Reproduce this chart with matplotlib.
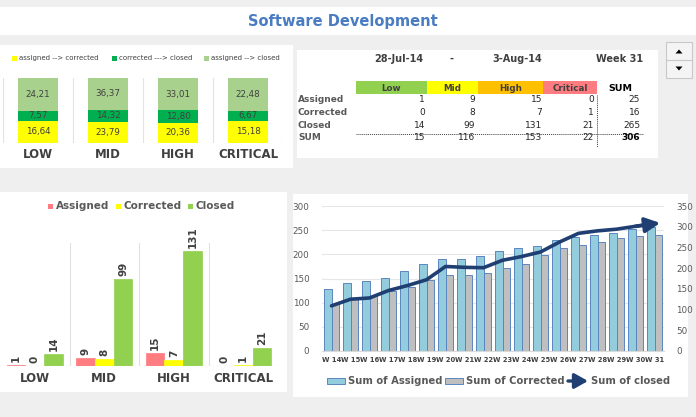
import matplotlib
matplotlib.use("Agg")
import matplotlib.pyplot as plt
import numpy as np
from matplotlib.patches import Rectangle, Polygon

# priority categories
categories = ["LOW", "MID", "HIGH", "CRITICAL"]
table_headers = ["Low", "Mid", "High", "Critical"]
row_names = ["Assigned", "Corrected", "Closed"]

# ratios for the 100% stacked chart
assigned_to_corrected = [16.64, 23.79, 20.36, 15.18]
corrected_to_closed = [7.57, 14.32, 12.80, 6.67]
assigned_to_closed = [24.21, 36.37, 33.01, 22.48]

# counts for this week
assigned = [1, 9, 15, 0]
corrected = [0, 8, 7, 1]
closed = [14, 99, 131, 21]

date_from = "28-Jul-14"
date_to = "3-Aug-14"
week_label = "Week 31"

# weekly totals
weeks = ["W 14", "W 15", "W 16", "W 17", "W 18", "W 19", "W 20", "W 21", "W 22",
         "W 23", "W 24", "W 25", "W 26", "W 27", "W 28", "W 29", "W 30", "W 31"]
sum_assigned = [128, 141, 145, 151, 165, 180, 190, 190, 197,
                206, 213, 217, 229, 235, 240, 245, 252, 257]
sum_corrected = [98, 108, 113, 125, 133, 146, 157, 158, 161,
                 172, 180, 198, 213, 220, 226, 233, 237, 239]
sum_closed = [109, 125, 128, 146, 158, 172, 204, 202, 201,
              219, 228, 239, 263, 284, 290, 294, 301, 308]

# colors
BG = "#EFEFEF"
TXT = "#404040"
GRAYTXT = "#595959"
YELLOW = "#FFFF00"
DGREEN = "#00B050"
LGREEN = "#A9D18E"
RED = "#FF7C80"
GREEN = "#92D050"
ORANGE = "#FFC000"
BLUEBAR = "#93CDDD"
GRAYBAR = "#BFBFBF"
EDGE = "#5B86C0"
NAVY = "#1F3F73"

W, H = 696, 417
fig = plt.figure(figsize=(W / 100, H / 100), dpi=100)
fig.patch.set_facecolor(BG)


def px_axes(x0, y0, x1, y1):
    ax = fig.add_axes([x0 / W, 1 - y1 / H, (x1 - x0) / W, (y1 - y0) / H])
    ax.set_facecolor("none")
    return ax


# background layer in pixel coords
bg = px_axes(0, 0, W, H)
bg.set_xlim(0, W)
bg.set_ylim(H, 0)
bg.axis("off")
bg.set_zorder(0)

for (x0, y0, x1, y1) in [(0, 7, 696, 35), (0, 45, 293, 168), (297, 50, 658, 158),
                         (0, 192, 287, 392), (293, 194, 688, 397)]:
    bg.add_patch(Rectangle((x0, y0), x1 - x0, y1 - y0, facecolor="white", edgecolor="none"))

bg.text(343, 21, "Software Development", color="#4A7CC2", fontsize=10.5, fontweight="bold",
        ha="center", va="center")

# ---- top left legend
for xs, col, lab in [(12, YELLOW, "assigned --> corrected"), (112, DGREEN, "corrected ---> closed"),
                     (204, LGREEN, "assigned --> closed")]:
    bg.add_patch(Rectangle((xs, 55.5), 5, 5, facecolor=col, edgecolor="none"))
    bg.text(xs + 7, 58, lab, fontsize=5.0, color=TXT, va="center", ha="left")

# ---- top left 100% stacked chart
ax1 = px_axes(3, 78, 283, 143)
a = np.array(assigned_to_corrected)
b = np.array(corrected_to_closed)
c = np.array(assigned_to_closed)
tot = a + b + c
x = np.arange(len(categories))
bottom = np.zeros(len(categories))
for vals, col in [(a, YELLOW), (b, DGREEN), (c, LGREEN)]:
    share = vals / tot
    ax1.bar(x, share, 0.56, bottom=bottom, color=col, edgecolor="none", zorder=2)
    for i in range(len(x)):
        ax1.text(x[i], bottom[i] + share[i] / 2, f"{vals[i]:.2f}".replace(".", ","),
                 ha="center", va="center", fontsize=6.3, color=TXT, zorder=3)
    bottom += share
ax1.set_xlim(-0.5, 3.5)
ax1.set_ylim(0, 1)
for xv in np.arange(-0.5, 4, 1):
    ax1.axvline(xv, color="#E3E3E3", lw=0.8, zorder=1)
ax1.axhline(0, color="#E3E3E3", lw=0.8)
ax1.axis("off")
for i, cat in enumerate(categories):
    bg.text(3 + 70 * (i + 0.5), 155, cat, ha="center", va="center", fontsize=8.5,
            fontweight="bold", color=TXT)

# ---- top right table
bg.text(399, 59, date_from, ha="center", va="center", fontsize=7, fontweight="bold", color=TXT)
bg.text(452, 59, "-", ha="center", va="center", fontsize=7, fontweight="bold", color=TXT)
bg.text(517, 59, date_to, ha="center", va="center", fontsize=7, fontweight="bold", color=TXT)
bg.text(620, 59, week_label, ha="center", va="center", fontsize=7, fontweight="bold", color=TXT)

col_edges = [356, 427, 478, 543, 597]
for i, (lab, col) in enumerate(zip(table_headers, [GREEN, YELLOW, ORANGE, RED])):
    bg.add_patch(Rectangle((col_edges[i], 81), col_edges[i + 1] - col_edges[i], 13,
                           facecolor=col, edgecolor="none"))
    bg.text((col_edges[i] + col_edges[i + 1]) / 2, 88, lab, ha="center", va="center",
            fontsize=6.3, fontweight="bold", color=TXT)
bg.text(620, 88, "SUM", ha="center", va="center", fontsize=6.8, fontweight="bold", color="black")

counts = np.array([assigned, corrected, closed])
num_x = [425, 475, 542, 594, 640]
row_y = [99.5, 112, 125, 138]
for r, name in enumerate(row_names):
    bg.text(298, row_y[r], name, ha="left", va="center", fontsize=6.5, fontweight="bold", color=GRAYTXT)
    for j in range(4):
        bg.text(num_x[j], row_y[r], str(counts[r, j]), ha="right", va="center", fontsize=6.5, color="#262626")
    bg.text(num_x[4], row_y[r], str(counts[r].sum()), ha="right", va="center", fontsize=6.5, color="#262626")
bg.text(298, row_y[3], "SUM", ha="left", va="center", fontsize=6.5, fontweight="bold", color=GRAYTXT)
col_sums = counts.sum(axis=0)
for j in range(4):
    bg.text(num_x[j], row_y[3], str(col_sums[j]), ha="right", va="center", fontsize=6.5, color="#262626")
bg.text(num_x[4], row_y[3], str(counts.sum()), ha="right", va="center", fontsize=6.5,
        fontweight="bold", color="black")
bg.plot([356, 643], [133.5, 133.5], color="#404040", lw=0.7, ls=(0, (1, 1)))
bg.plot([597, 597], [95, 147], color="#404040", lw=0.7, ls=(0, (1, 1)))

# spinner
bg.add_patch(Rectangle((666, 42), 26, 36, facecolor="#F4F4F4", edgecolor="#C8C8C8", lw=0.8))
bg.plot([666, 692], [60, 60], color="#C8C8C8", lw=0.8)
bg.add_patch(Polygon([[675.5, 53.5], [682.5, 53.5], [679, 49.5]], facecolor="black"))
bg.add_patch(Polygon([[675.5, 66.5], [682.5, 66.5], [679, 70.5]], facecolor="black"))

# ---- bottom left grouped bars
for xs, col, lab in [(48, RED, "Assigned"), (116, YELLOW, "Corrected"), (188, GREEN, "Closed")]:
    bg.add_patch(Rectangle((xs, 203.5), 5, 5, facecolor=col, edgecolor="none"))
    bg.text(xs + 8, 206, lab, fontsize=7.5, fontweight="bold", color=GRAYTXT, va="center", ha="left")

ax2 = px_axes(0, 243, 278, 366)
bw = 0.27
for k, (vals, col) in enumerate([(assigned, RED), (corrected, YELLOW), (closed, GREEN)]):
    xpos = x + (k - 1) * bw
    ax2.bar(xpos, vals, bw, color=col, edgecolor=col, lw=0.5, zorder=2)
    for xp, v in zip(xpos, vals):
        ax2.text(xp, v + 3, str(v), rotation=90, ha="center", va="bottom", fontsize=7.5,
                 fontweight="bold", color=TXT, clip_on=False)
ax2.set_xlim(-0.5, 3.5)
ax2.set_ylim(0, 140)
for xv in [0.5, 1.5, 2.5, 3.5]:
    ax2.axvline(xv, color="#E0E0E0", lw=0.8, zorder=1)
ax2.axhline(0, color="#D9D9D9", lw=0.8)
ax2.axis("off")
for i, cat in enumerate(categories):
    bg.text(69.5 * (i + 0.5), 379, cat, ha="center", va="center", fontsize=8.5,
            fontweight="bold", color=TXT)

# ---- bottom right combo chart
ax3 = px_axes(322, 206, 664, 351)
wx = np.arange(len(weeks))
ax3.bar(wx - 0.21, sum_assigned, 0.42, color=BLUEBAR, edgecolor=EDGE, lw=0.7, zorder=2)
ax3.bar(wx + 0.21, sum_corrected, 0.42, color=GRAYBAR, edgecolor=EDGE, lw=0.7, zorder=2)
ax3.set_xlim(-0.5, len(weeks) - 0.5)
ax3.set_ylim(0, 300)
ax3.set_yticks(range(0, 301, 50))
ax3.grid(axis="y", color="#E6E6E6", lw=0.8, zorder=0)
ax3.set_axisbelow(True)
for s in ["top", "left", "right"]:
    ax3.spines[s].set_visible(False)
ax3.spines["bottom"].set_color("#D9D9D9")
ax3.tick_params(axis="y", length=0, labelsize=6.3, labelcolor=GRAYTXT, pad=9)
ax3.set_xticks(wx)
ax3.set_xticklabels(weeks, fontsize=4.9, fontweight="bold", color=TXT)
ax3.tick_params(axis="x", length=0, pad=4)

ax4 = ax3.twinx()
ax4.set_ylim(0, 350)
ax4.set_yticks(range(0, 351, 50))
for s in ax4.spines.values():
    s.set_visible(False)
ax4.tick_params(axis="y", length=0, labelsize=6.3, labelcolor=GRAYTXT, pad=9)
ax4.plot(wx, sum_closed, color=NAVY, lw=2.6, solid_capstyle="round", solid_joinstyle="round", zorder=5)
ax4.annotate("", xy=(wx[-1] + 0.3, sum_closed[-1] + 1), xytext=(wx[-2], sum_closed[-2]),
             arrowprops=dict(arrowstyle="-|>,head_length=0.9,head_width=0.45", color=NAVY, lw=2.6,
                             shrinkA=0, shrinkB=0), zorder=6)

# combo legend
bg.add_patch(Rectangle((327, 378), 18, 6, facecolor=BLUEBAR, edgecolor=EDGE, lw=0.7))
bg.text(348, 381, "Sum of Assigned", fontsize=7.2, fontweight="bold", color=GRAYTXT, va="center")
bg.add_patch(Rectangle((445, 378), 18, 6, facecolor=GRAYBAR, edgecolor=EDGE, lw=0.7))
bg.text(466, 381, "Sum of Corrected", fontsize=7.2, fontweight="bold", color=GRAYTXT, va="center")
bg.annotate("", xy=(588, 381), xytext=(568, 381),
            arrowprops=dict(arrowstyle="-|>,head_length=0.8,head_width=0.45", color=NAVY, lw=2.4,
                            shrinkA=0, shrinkB=0))
bg.text(591, 381, "Sum of closed", fontsize=7.2, fontweight="bold", color=GRAYTXT, va="center")

fig.savefig("out.png", dpi=100, facecolor=BG)
